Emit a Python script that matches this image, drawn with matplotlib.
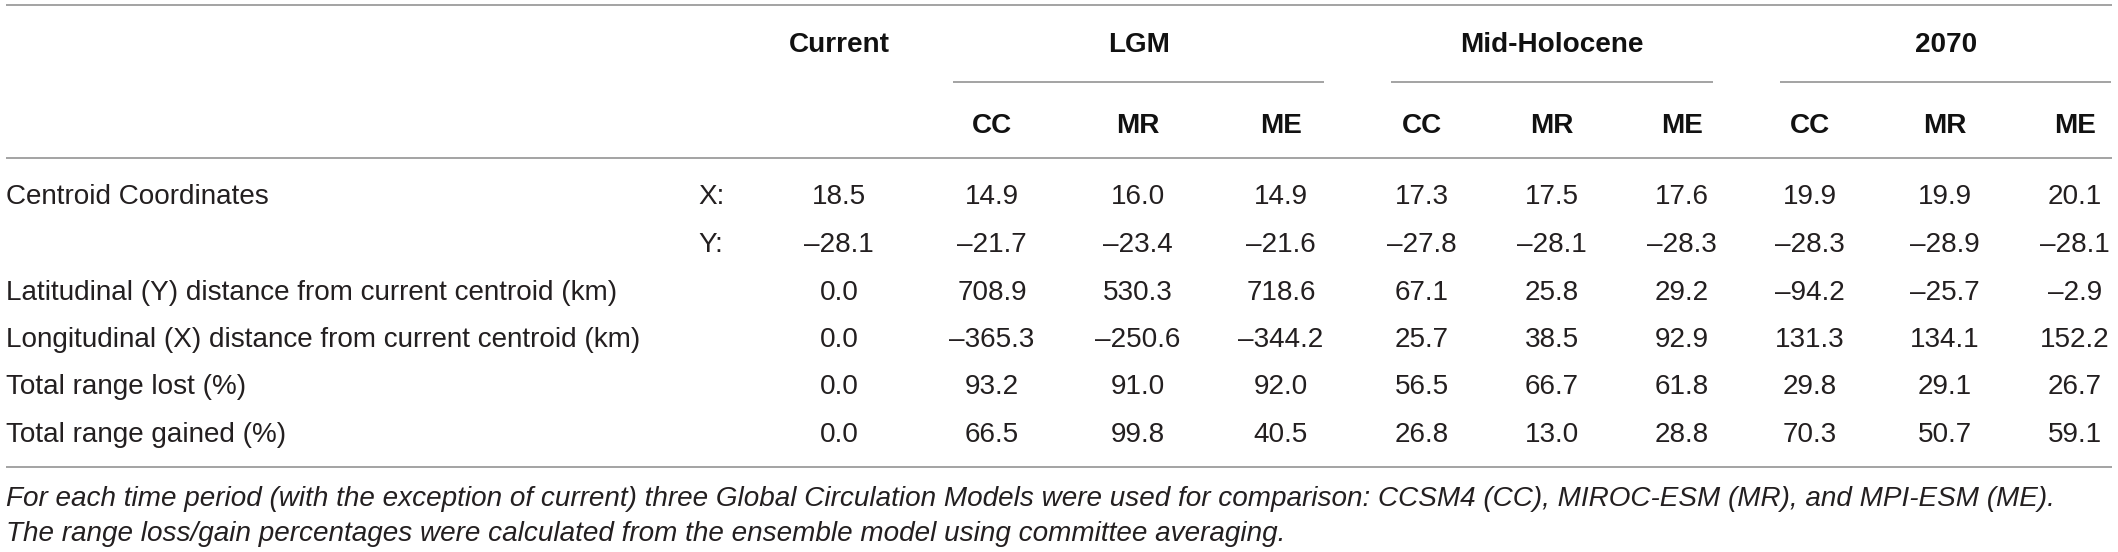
import matplotlib
matplotlib.use("Agg")
import matplotlib.pyplot as plt

# ---- data ----
periods = ["Current", "LGM", "Mid-Holocene", "2070"]
models = ["CC", "MR", "ME"]
row_labels = [
    "Centroid Coordinates",
    "",
    "Latitudinal (Y) distance from current centroid (km)",
    "Longitudinal (X) distance from current centroid (km)",
    "Total range lost (%)",
    "Total range gained (%)",
]
coord_labels = ["X:", "Y:", "", "", "", ""]
current_vals = [18.5, -28.1, 0.0, 0.0, 0.0, 0.0]
lgm_cc = [14.9, -21.7, 708.9, -365.3, 93.2, 66.5]
lgm_mr = [16.0, -23.4, 530.3, -250.6, 91.0, 99.8]
lgm_me = [14.9, -21.6, 718.6, -344.2, 92.0, 40.5]
mh_cc = [17.3, -27.8, 67.1, 25.7, 56.5, 26.8]
mh_mr = [17.5, -28.1, 25.8, 38.5, 66.7, 13.0]
mh_me = [17.6, -28.3, 29.2, 92.9, 61.8, 28.8]
f2070_cc = [19.9, -28.3, -94.2, 131.3, 29.8, 70.3]
f2070_mr = [19.9, -28.9, -25.7, 134.1, 29.1, 50.7]
f2070_me = [20.1, -28.1, -2.9, 152.2, 26.7, 59.1]
footnotes = [
    "For each time period (with the exception of current) three Global Circulation Models were used for comparison: CCSM4 (CC), MIROC-ESM (MR), and MPI-ESM (ME).",
    "The range loss/gain percentages were calculated from the ensemble model using committee averaging.",
]

columns = [current_vals, lgm_cc, lgm_mr, lgm_me, mh_cc, mh_mr, mh_me,
           f2070_cc, f2070_mr, f2070_me]

# ---- layout (pixels) ----
W, H = 2118, 552
fig = plt.figure(figsize=(W / 100, H / 100), dpi=100)
ax = fig.add_axes([0, 0, 1, 1])
ax.set_xlim(0, W)
ax.set_ylim(H, 0)
ax.axis("off")

FONT = "Liberation Sans"
FS = 20.1
TXT = "#231f20"
LINE = "#8a8a8a"

col_x = [839, 992, 1138, 1281, 1422, 1552, 1682, 1810, 1945, 2075]
period_x = [839, 1139, 1552, 1946]
underlines = [(953, 1324), (1391, 1713), (1780, 2111)]
row_base = [204.5, 252, 299.5, 347, 394.5, 441.5]

# horizontal rules
for y in (5.3, 158, 467):
    ax.plot([6, 2112], [y, y], color=LINE, lw=1.1, solid_capstyle="butt")
for x0, x1 in underlines:
    ax.plot([x0, x1], [82, 82], color=LINE, lw=1.1, solid_capstyle="butt")

# headers
for p, x in zip(periods, period_x):
    ax.text(x, 52, p, ha="center", va="baseline", fontsize=FS,
            fontweight="bold", family=FONT, color="#111111")
for i in range(9):
    ax.text(col_x[i + 1], 133, models[i % 3], ha="center", va="baseline",
            fontsize=FS, fontweight="bold", family=FONT, color="#111111")


def fmt(v):
    s = f"{abs(v):.1f}"
    return ("\u2013" + s) if v < 0 else s


# body
for r, lab in enumerate(row_labels):
    yb = row_base[r]
    if lab:
        ax.text(6.5, yb, lab, ha="left", va="baseline", fontsize=FS,
                family=FONT, color=TXT)
    if coord_labels[r]:
        ax.text(698, yb, coord_labels[r], ha="left", va="baseline",
                fontsize=FS, family=FONT, color=TXT)
    for c, vals in enumerate(columns):
        ax.text(col_x[c], yb, fmt(vals[r]), ha="center", va="baseline",
                fontsize=FS, family=FONT, color=TXT)

# footnotes
for yb, t in zip((506, 541), footnotes):
    ax.text(6.5, yb, t, ha="left", va="baseline", fontsize=FS,
            family=FONT, style="italic", color=TXT)

fig.savefig("out.png", dpi=100)
